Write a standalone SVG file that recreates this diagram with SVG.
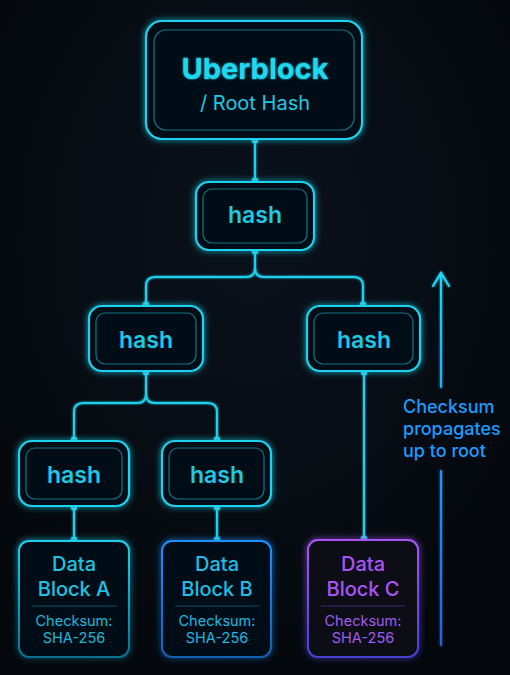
<svg xmlns="http://www.w3.org/2000/svg" width="510" height="675" viewBox="0 0 510 675">
<defs>
<radialGradient id="bg" cx="50%" cy="35%" r="75%">
<stop offset="0" stop-color="#0a121c"/>
<stop offset="1" stop-color="#04070b"/>
</radialGradient>
<filter id="glow" x="-30%" y="-30%" width="160%" height="160%">
<feGaussianBlur in="SourceGraphic" stdDeviation="3" result="b"/>
<feMerge><feMergeNode in="b"/><feMergeNode in="SourceGraphic"/></feMerge>
</filter>
<filter id="tglow" x="-20%" y="-30%" width="140%" height="160%">
<feGaussianBlur in="SourceGraphic" stdDeviation="1.2" result="b"/>
<feMerge><feMergeNode in="b"/><feMergeNode in="SourceGraphic"/></feMerge>
</filter>
<linearGradient id="gA" x1="0" y1="0" x2="0" y2="1">
<stop offset="0" stop-color="#1ed0ee"/>
<stop offset="1" stop-color="#0e6f8c"/>
</linearGradient>
<linearGradient id="gB" x1="0" y1="0" x2="0" y2="1">
<stop offset="0" stop-color="#1e90ff"/>
<stop offset="1" stop-color="#1460b0"/>
</linearGradient>
<linearGradient id="gC" x1="0" y1="0" x2="0" y2="1">
<stop offset="0" stop-color="#a855f7"/>
<stop offset="1" stop-color="#4a3fd0"/>
</linearGradient>
<linearGradient id="gLine" gradientUnits="userSpaceOnUse" x1="0" y1="372" x2="0" y2="540">
<stop offset="0" stop-color="#1ed0ee"/>
<stop offset="0.5" stop-color="#3b8cff"/>
<stop offset="1" stop-color="#a855f7"/>
</linearGradient>
<linearGradient id="gArrow" gradientUnits="userSpaceOnUse" x1="0" y1="270" x2="0" y2="645">
<stop offset="0" stop-color="#1ed8f5"/>
<stop offset="0.5" stop-color="#1e9bff"/>
<stop offset="1" stop-color="#2a60d8"/>
</linearGradient>
<style>
.outer{fill:#060b12;stroke:#1fd3ef;stroke-width:2.2}
.inner{fill:none;stroke:#137488;stroke-width:1.2}
.conn{fill:none;stroke:#1ed0ee;stroke-width:2}
.dot{fill:#2ee0ff}
.ht{font-family:Inter,"Noto Sans",sans-serif;font-weight:600;font-size:23px;fill:#1fc9e4;text-anchor:middle}
.dt{font-family:Inter,"Noto Sans",sans-serif;font-weight:500;font-size:20px;text-anchor:middle}
.cs{font-family:Inter,"Noto Sans",sans-serif;font-size:14.5px;text-anchor:middle}
.lbl{font-family:Inter,"Noto Sans",sans-serif;font-weight:500;font-size:18px;fill:#1e9bff}
</style>
</defs>
<rect width="510" height="675" fill="url(#bg)"/>

<g id="connectors" filter="url(#tglow)">
<line class="conn" x1="255" y1="140" x2="255" y2="181"/>
<path class="conn" d="M255 251 V268 Q255 277 246 277 H155 Q146 277 146 286 V305"/>
<path class="conn" d="M255 251 V268 Q255 277 264 277 H354 Q363 277 363 286 V305" stroke="#1aa9c8" stroke-width="1.6"/>
<path class="conn" d="M146 372 V394 Q146 403 137 403 H83 Q74 403 74 412 V440"/>
<path class="conn" d="M146 372 V394 Q146 403 155 403 H208 Q217 403 217 412 V440" stroke="#1aa9c8" stroke-width="1.6"/>
<line class="conn" x1="74" y1="507" x2="74" y2="540"/>
<line class="conn" x1="217" y1="507" x2="217" y2="540" stroke="#1e90ff"/>
<line class="conn" x1="364" y1="372" x2="364" y2="539" stroke="url(#gLine)"/>
<circle class="dot" cx="255" cy="140" r="3.2"/>
<circle class="dot" cx="255" cy="181" r="3.2"/>
<circle class="dot" cx="255" cy="251" r="3.2"/>
<circle class="dot" cx="146" cy="305" r="3.2"/>
<circle class="dot" cx="363" cy="305" r="3.2"/>
<circle class="dot" cx="146" cy="372" r="3.2"/>
<circle class="dot" cx="74" cy="440" r="3.2"/>
<circle class="dot" cx="217" cy="440" r="3.2" fill="#1e9bff"/>
<circle class="dot" cx="74" cy="507" r="3.2"/>
<circle class="dot" cx="74" cy="540" r="3.2"/>
<circle class="dot" cx="217" cy="507" r="3.2" fill="#1e9bff"/>
<circle class="dot" cx="217" cy="540" r="3.2" fill="#1e9bff"/>
<circle class="dot" cx="364" cy="372" r="3.2" fill="#1e9bff"/>
<circle class="dot" cx="364" cy="539" r="3.2" fill="#b060f0"/>
</g>

<g id="root">
<rect class="outer" x="146" y="21" width="216" height="118" rx="16" filter="url(#glow)"/>
<rect class="inner" x="154" y="30" width="200" height="100" rx="12"/>
<text x="255" y="79" font-family="Inter,'Noto Sans',sans-serif" font-weight="700" font-size="29" fill="#1fd8f0" text-anchor="middle" filter="url(#tglow)">Uberblock</text>
<text x="255" y="110" font-family="Inter,'Noto Sans',sans-serif" font-size="20" fill="#1fc9e4" text-anchor="middle">/ Root Hash</text>
</g>

<g id="hash-top">
<rect class="outer" x="196" y="182" width="118" height="68" rx="13" filter="url(#glow)"/>
<rect class="inner" x="203" y="189" width="104" height="54" rx="9"/>
<text class="ht" x="255" y="223">hash</text>
</g>

<g id="hash-left">
<rect class="outer" x="89" y="306" width="114" height="65" rx="13" filter="url(#glow)"/>
<rect class="inner" x="96" y="313" width="100" height="51" rx="9"/>
<text class="ht" x="146" y="348">hash</text>
</g>

<g id="hash-right">
<rect class="outer" x="307" y="306" width="113" height="65" rx="13" filter="url(#glow)"/>
<rect class="inner" x="314" y="313" width="99" height="51" rx="9"/>
<text class="ht" x="364" y="348">hash</text>
</g>

<g id="hash-a">
<rect class="outer" x="19" y="441" width="110" height="65" rx="13" filter="url(#glow)"/>
<rect class="inner" x="26" y="448" width="96" height="51" rx="9"/>
<text class="ht" x="74" y="483">hash</text>
</g>

<g id="hash-b">
<rect class="outer" x="162" y="441" width="109" height="65" rx="13" stroke="#1e9bff" filter="url(#glow)"/>
<rect class="inner" x="169" y="448" width="95" height="51" rx="9" stroke="#156a88"/>
<text class="ht" x="217" y="483">hash</text>
</g>

<g id="data-a">
<rect x="19" y="541" width="110" height="116" rx="10" fill="#060b12" stroke="url(#gA)" stroke-width="2" filter="url(#glow)"/>
<text class="dt" x="74" y="571" fill="#1fc4e2">Data</text>
<text class="dt" x="74" y="595.5" fill="#1fc4e2">Block A</text>
<line x1="32" y1="606" x2="117" y2="606" stroke="#155066" stroke-width="1"/>
<text class="cs" x="74" y="626" fill="#1fb8d8">Checksum:</text>
<text class="cs" x="74" y="643" fill="#1fb8d8">SHA-256</text>
</g>

<g id="data-b">
<rect x="162" y="541" width="109" height="116" rx="10" fill="#060b12" stroke="url(#gB)" stroke-width="2" filter="url(#glow)"/>
<text class="dt" x="217" y="571" fill="#1fbde6">Data</text>
<text class="dt" x="217" y="595.5" fill="#1fbde6">Block B</text>
<line x1="175" y1="606" x2="259" y2="606" stroke="#164a70" stroke-width="1"/>
<text class="cs" x="217" y="626" fill="#1fb6e0">Checksum:</text>
<text class="cs" x="217" y="643" fill="#1fb6e0">SHA-256</text>
</g>

<g id="data-c">
<rect x="308" y="540" width="110" height="117" rx="10" fill="#0a0b18" stroke="url(#gC)" stroke-width="2" filter="url(#glow)"/>
<text class="dt" x="363" y="571" fill="#a855f7">Data</text>
<text class="dt" x="363" y="595.5" fill="#a855f7">Block C</text>
<line x1="321" y1="606" x2="405" y2="606" stroke="#3e2a72" stroke-width="1"/>
<text class="cs" x="363" y="626" fill="#a05cf0">Checksum:</text>
<text class="cs" x="363" y="643" fill="#a05cf0">SHA-256</text>
</g>

<g id="propagation-note">
<g filter="url(#tglow)" stroke="url(#gArrow)" stroke-width="2" fill="none" stroke-linecap="round">
<line x1="441" y1="273" x2="441" y2="387"/>
<polyline points="433,286 441,273 449,286" stroke-linejoin="miter"/>
<line x1="441" y1="471" x2="441" y2="645"/>
</g>
<text class="lbl" x="403" y="413">Checksum</text>
<text class="lbl" x="403" y="435">propagates</text>
<text class="lbl" x="403" y="457">up to root</text>
</g>
</svg>
